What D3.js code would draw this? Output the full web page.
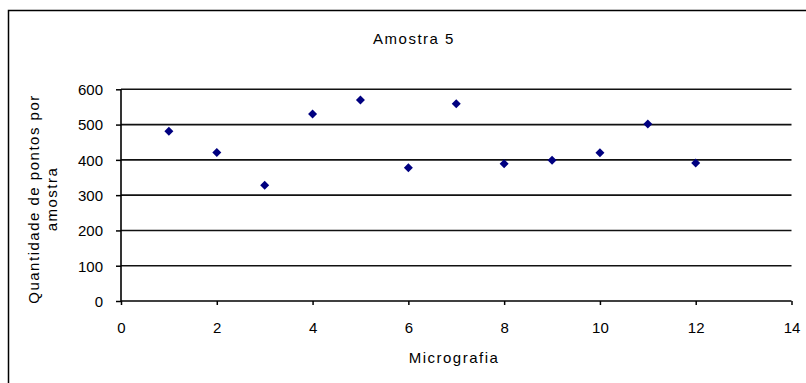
<!DOCTYPE html>
<html>
<head>
<meta charset="utf-8">
<script src="https://cdn.jsdelivr.net/npm/d3@7"></script>
<style>
  body { margin: 0; background: #fff; }
  svg text { font-family: "Liberation Sans", Arial, sans-serif; fill: #000; }
</style>
</head>
<body>
<svg width="806" height="383"></svg>
<script>
// chart data
const micrografia = [1, 2, 3, 4, 5, 6, 7, 8, 9, 10, 11, 12];
const pontos = [481, 421, 328, 530, 570, 378, 559, 389, 399, 420, 502, 391];
const xTicks = [0, 2, 4, 6, 8, 10, 12, 14];
const yTicks = [0, 100, 200, 300, 400, 500, 600];
const title = "Amostra 5";
const xLabel = "Micrografia";
const yLabel = ["Quantidade de pontos por", "amostra"];

const svg = d3.select("svg");

// outer chart frame (runs off the right and bottom edges)
svg.append("path")
   .attr("d", "M8.5,830 V10.5 H900")
   .attr("fill", "none")
   .attr("stroke", "#000")
   .attr("stroke-width", 1.5);

const x = d3.scaleLinear().domain([0, 14]).range([121, 791.5]);
const y = d3.scaleLinear().domain([0, 600]).range([301, 89.3]);

// gridlines
svg.append("g")
   .selectAll("line")
   .data(yTicks.filter(d => d > 0))
   .enter()
   .append("line")
   .attr("x1", x(0))
   .attr("x2", x(14))
   .attr("y1", d => y(d))
   .attr("y2", d => y(d))
   .attr("stroke", "#111")
   .attr("stroke-width", 1.6);

// y axis
const yAxis = svg.append("g")
   .attr("transform", `translate(${x(0)},0)`)
   .call(d3.axisLeft(y).tickValues(yTicks).tickSize(5).tickPadding(13));

// x axis
const xAxis = svg.append("g")
   .attr("transform", `translate(0,${y(0)})`)
   .call(d3.axisBottom(x).tickValues(xTicks).tickSize(4).tickPadding(17));

[yAxis, xAxis].forEach(function(ax){
    ax.select(".domain").remove();
    ax.selectAll(".tick line").attr("stroke", "#000").attr("stroke-width", 1.5);
    ax.selectAll("text")
      .attr("font-size", "15px")
      .attr("font-family", "'Liberation Sans', Arial, sans-serif")
      .attr("fill", "#000");
});
yAxis.selectAll("text").attr("dy", "0.36em");
xAxis.selectAll("text").attr("dy", "0.72em");

// axis lines
svg.append("line")
   .attr("x1", x(0)).attr("x2", x(0))
   .attr("y1", y(600)).attr("y2", y(0))
   .attr("stroke", "#000").attr("stroke-width", 1.6);
svg.append("line")
   .attr("x1", x(0)).attr("x2", x(14))
   .attr("y1", y(0)).attr("y2", y(0))
   .attr("stroke", "#000").attr("stroke-width", 1.6);

// markers
const diamond = "M0,-4.5L4.5,0L0,4.5L-4.5,0Z";
svg.append("g")
   .selectAll("path")
   .data(micrografia)
   .enter()
   .append("path")
   .attr("d", diamond)
   .attr("transform", (d, i) => `translate(${x(d)},${y(pontos[i])})`)
   .attr("fill", "#000080");

// title and axis titles
svg.append("text")
   .attr("x", 414).attr("y", 44)
   .attr("text-anchor", "middle")
   .attr("font-size", "15px")
   .attr("letter-spacing", "1.5px")
   .text(title);

svg.append("text")
   .attr("x", 454).attr("y", 363)
   .attr("text-anchor", "middle")
   .attr("font-size", "15px")
   .attr("letter-spacing", "1.5px")
   .text(xLabel);

svg.append("g")
   .attr("transform", "translate(0,199) rotate(-90)")
   .selectAll("text")
   .data(yLabel)
   .enter()
   .append("text")
   .attr("x", 0)
   .attr("y", (d, i) => 39 + i * 18)
   .attr("text-anchor", "middle")
   .attr("font-size", "15px")
   .attr("letter-spacing", "1.5px")
   .text(d => d);
</script>
</body>
</html>
